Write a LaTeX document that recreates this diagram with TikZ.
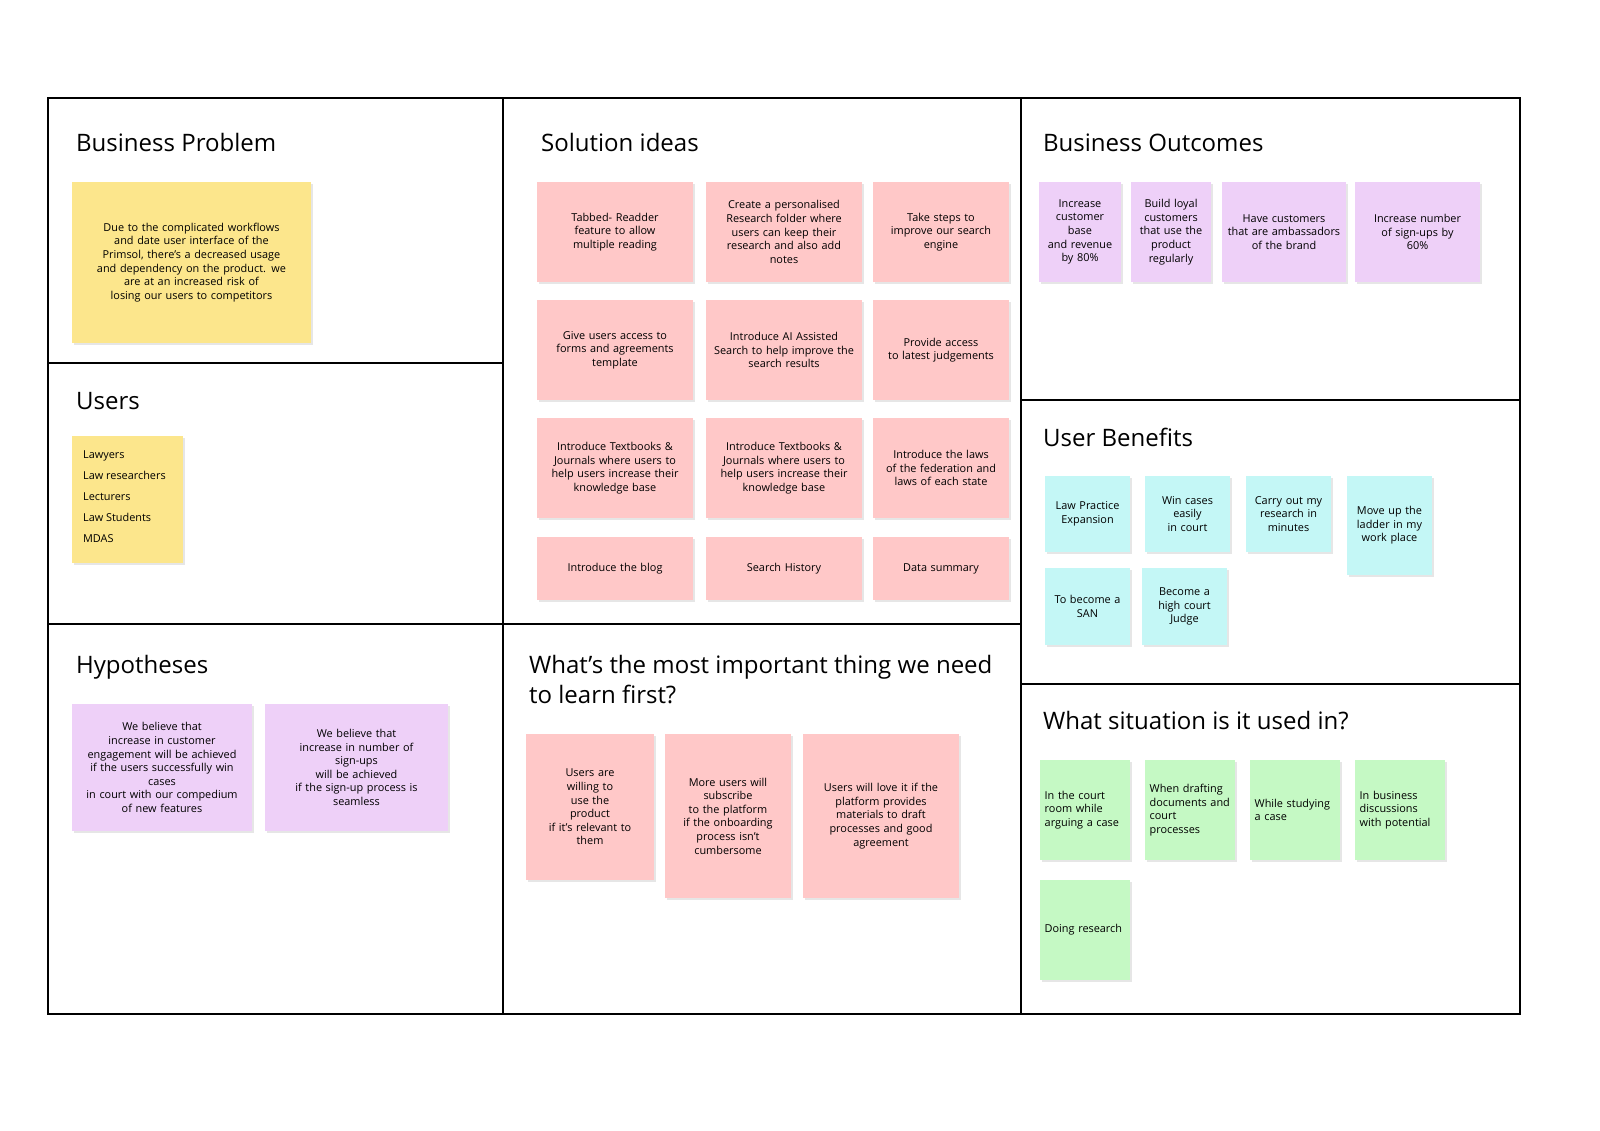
\documentclass[tikz,border=0pt]{standalone}
\usepackage{fontspec}
\setmainfont{Open Sans}
\usetikzlibrary{shadows}
\definecolor{stickyyellow}{HTML}{FCE68C}
\definecolor{stickypink}{HTML}{FFC8C8}
\definecolor{stickypurple}{HTML}{EED0F8}
\definecolor{stickycyan}{HTML}{C4F7F6}
\definecolor{stickygreen}{HTML}{C5F9C4}
\tikzset{
    note/.style = {drop shadow={opacity=0.2, shadow xshift=1.5pt, shadow yshift=-1.5pt},
        align=center, font=\fontsize{9.3}{11.6}\selectfont, inner sep=2pt},
    sz/.style 2 args = {minimum width=#1*0.3mm, minimum height=#2*0.3mm, text width=#1*0.3mm-8pt},
    yellow/.style = {note, fill=stickyyellow},
    pink/.style = {note, fill=stickypink},
    purple/.style = {note, fill=stickypurple},
    cyan/.style = {note, fill=stickycyan},
    green/.style = {note, fill=stickygreen, align=left},
    head/.style = {anchor=base west, font=\fontsize{20.5}{25}\selectfont}
}
\begin{document}
\begin{tikzpicture}[x=0.3mm, y=-0.3mm]

    \useasboundingbox (0,0) rectangle (1600,1130);
    \draw[line width=2pt] (48,98) rectangle (1520,1014);
    \draw[line width=1.3pt] (503,98) -- (503,1014) (1021,98) -- (1021,1014)
        (48,363) -- (503,363) (48,624) -- (1021,624)
        (1021,400) -- (1520,400) (1021,684) -- (1520,684);

    % headings
    \node[head] (hbp) at (72,151) {Business Problem};
    \node[head] (hus) at (72,409) {Users};
    \node[head] (hhy) at (72,673) {Hypotheses};
    \node[head] (hsi) at (537,151) {Solution ideas};
    \node[head, align=left, font=\fontsize{20.5}{25.5}\selectfont, anchor=north west] (hle) at (525,651) {What’s the most important thing we need\\to learn first?};
    \node[head] (hbo) at (1039,151) {Business Outcomes};
    \node[head] (hub) at (1039,446) {User Benefits};
    \node[head] (hws) at (1039,729) {What situation is it used in?};

    % business problem and users
    \node[yellow, sz={239}{161}] (bp) at (191.5,262.5) {Due to the complicated workflows\\and date user interface of the\\Primsol, there’s a decreased usage\\and dependency on the product. we\\are at an increased risk of\\losing our users to competitors};
    \node[yellow, sz={111}{127}] (us) at (127.5,499.5) {};
    \node[anchor=north west, align=left, font=\fontsize{9.3}{17.8}\selectfont] (usl) at (79,447) {Lawyers\\Law researchers\\Lecturers\\Law Students\\MDAS};

    % solution ideas
    \node[pink, sz={156}{100}] (s1) at (615,232) {Tabbed- Readder\\feature to allow\\multiple reading};
    \node[pink, sz={156}{100}] (s2) at (784,232) {Create a personalised\\Research folder where\\users can\ keep their\\research and also add\\notes};
    \node[pink, sz={136}{100}] (s3) at (941,232) {Take steps to\\improve our search\\engine};
    \node[pink, sz={156}{100}] (s4) at (615,350) {Give users access to\\forms and agreements\\template};
    \node[pink, sz={156}{100}] (s5) at (784,350) {Introduce AI Assisted\\Search to help improve the\\search\ results};
    \node[pink, sz={136}{100}] (s6) at (941,350) {Provide access\\to latest judgements};
    \node[pink, sz={156}{100}] (s7) at (615,468) {Introduce Textbooks \&\\Journals where users to\\help users increase their\\knowledge\ base};
    \node[pink, sz={156}{100}] (s8) at (784,468) {Introduce Textbooks \&\\Journals where users to\\help users increase their\\knowledge\ base};
    \node[pink, sz={136}{100}] (s9) at (941,468) {Introduce the laws\\of the federation and\\laws of each state};
    \node[pink, sz={156}{63}] (s10) at (615,568.5) {Introduce the blog};
    \node[pink, sz={156}{63}] (s11) at (784,568.5) {Search History};
    \node[pink, sz={136}{63}] (s12) at (941,568.5) {Data summary};

    % business outcomes
    \node[purple, sz={82}{100}] (o1) at (1080,232) {Increase\\customer\\base\\and revenue\\by 80\%};
    \node[purple, sz={80}{100}] (o2) at (1171,232) {Build loyal\\customers\\that use the\\product\\regularly};
    \node[purple, sz={124}{100}] (o3) at (1284,232) {Have customers\\that are ambassadors\\of the brand};
    \node[purple, sz={125}{100}] (o4) at (1417.5,232) {Increase number\\of sign-ups by\\60\%};

    % user benefits
    \node[cyan, sz={85}{76}] (b1) at (1087.5,514) {Law Practice\\Expansion};
    \node[cyan, sz={85}{76}] (b2) at (1187.5,514) {Win cases\\easily\\in court};
    \node[cyan, sz={85}{76}] (b3) at (1288.5,514) {Carry out my\\research in\\minutes};
    \node[cyan, sz={85}{99}] (b4) at (1389.5,525.5) {Move up the\\ladder in my\\work place};
    \node[cyan, sz={85}{77}] (b5) at (1087.5,606.5) {To become a\\SAN};
    \node[cyan, sz={85}{77}] (b6) at (1184.5,606.5) {Become a\\high court\\Judge};

    % situations
    \node[green, sz={90}{100}] (w1) at (1085,810) {In the court\\room while\\arguing a case};
    \node[green, sz={90}{100}] (w2) at (1190,810) {When drafting\\documents and\\court\\processes};
    \node[green, sz={90}{100}] (w3) at (1295,810) {While studying\\a case};
    \node[green, sz={90}{100}] (w4) at (1400,810) {In business\\discussions\\with potential};
    \node[green, sz={90}{100}] (w5) at (1085,930) {Doing research};

    % hypotheses
    \node[purple, sz={180}{127}] (h1) at (162,767.5) {We believe that\\increase in customer\\engagement will be achieved\\if the users successfully win\\cases\\in court with our compedium\\of new features};
    \node[purple, sz={183}{127}] (h2) at (356.5,767.5) {We believe that\\increase in number of\\sign-ups\\will be achieved\\if the sign-up process is\\seamless};

    % learn first
    \node[pink, sz={128}{146}] (l1) at (590,807) {Users are\\willing to\\use the\\product\\if it’s relevant to\\them};
    \node[pink, sz={126}{164}] (l2) at (728,816) {More users will\\subscribe\\to the platform\\if the onboarding\\process isn’t\\cumbersome};
    \node[pink, sz={156}{164}] (l3) at (881,816) {Users will love it if the\\platform provides\\materials to draft\\processes and good\\agreement};

\end{tikzpicture}
\end{document}
